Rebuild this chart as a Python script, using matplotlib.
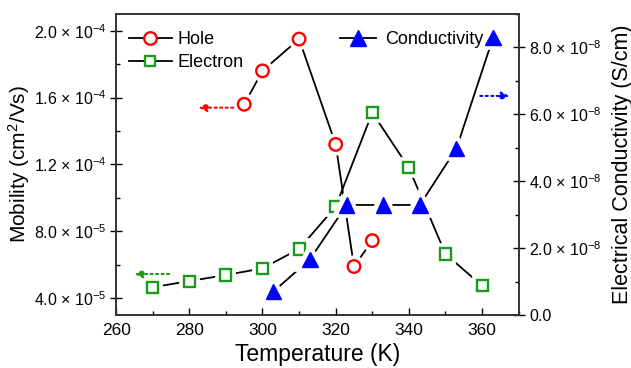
import numpy as np
import matplotlib.pyplot as plt
import matplotlib.patheffects as pe
from matplotlib.lines import Line2D
from matplotlib.ticker import FuncFormatter, MultipleLocator

plt.rcParams['font.family'] = ['Liberation Sans', 'DejaVu Sans']
plt.rcParams['mathtext.fontset'] = 'custom'
plt.rcParams['mathtext.rm'] = 'Liberation Sans'
plt.rcParams['mathtext.it'] = 'Liberation Sans:italic'

# data
hole_T = [295, 300, 310, 320, 325, 330]
hole_mu = [1.56e-4, 1.76e-4, 1.95e-4, 1.32e-4, 5.9e-5, 7.45e-5]

elec_T = [270, 280, 290, 300, 310, 320, 330, 340, 350, 360]
elec_mu = [4.66e-5, 5.03e-5, 5.39e-5, 5.79e-5, 6.95e-5, 9.48e-5,
           1.51e-4, 1.18e-4, 6.65e-5, 4.75e-5]

cond_T = [303, 313, 323, 333, 343, 353, 363]
cond_s = [0.70e-8, 1.67e-8, 3.29e-8, 3.29e-8, 3.29e-8, 4.98e-8, 8.29e-8]


def sci(v, pos):
    if abs(v) < 1e-20:
        return '0.0'
    e = int(np.floor(np.log10(abs(v)) + 1e-9))
    m = v / 10**e
    return '%.1f \u00d7 10$^{%d}$' % (m, e)


halo = [pe.withStroke(linewidth=7, foreground='white')]

fig = plt.figure(figsize=(6.31, 3.68), dpi=100)
ax = fig.add_axes([0.184, 0.144, 0.638, 0.818])
ax2 = ax.twinx()

ax.plot(hole_T, hole_mu, color='black', lw=1.3)
ax.plot(hole_T, hole_mu, ls='none', marker='o', ms=9, mfc='white',
        mec='red', mew=1.7, path_effects=halo)
ax.plot(elec_T, elec_mu, color='black', lw=1.3)
ax.plot(elec_T, elec_mu, ls='none', marker='s', ms=8, mfc='white',
        mec='#1a9a1a', mew=1.7, path_effects=halo)

ax2.plot(cond_T, cond_s, color='black', lw=1.3)
ax2.plot(cond_T, cond_s, ls='none', marker='^', ms=11, mfc='blue',
         mec='blue', path_effects=halo)

ax.set_xlim(260, 370)
ax.set_ylim(3e-5, 2.1e-4)
ax2.set_ylim(0, 9e-8)

ax.xaxis.set_major_locator(MultipleLocator(20))
ax.xaxis.set_minor_locator(MultipleLocator(10))
ax.yaxis.set_major_locator(MultipleLocator(4e-5))
ax.yaxis.set_minor_locator(MultipleLocator(2e-5))
ax2.yaxis.set_major_locator(MultipleLocator(2e-8))
ax2.yaxis.set_minor_locator(MultipleLocator(1e-8))
ax.yaxis.set_major_formatter(FuncFormatter(sci))
ax2.yaxis.set_major_formatter(FuncFormatter(sci))

ax.tick_params(axis='x', which='major', direction='in', length=5, width=1, labelsize=12.5, pad=6)
ax.tick_params(axis='x', which='minor', direction='in', length=3, width=1)
ax.tick_params(axis='y', which='major', direction='inout', length=8, width=1, labelsize=11.5, pad=3)
ax.tick_params(axis='y', which='minor', direction='in', length=3, width=1)
ax2.tick_params(axis='y', which='major', direction='inout', length=8, width=1, labelsize=11.5)
ax2.tick_params(axis='y', which='minor', direction='in', length=3, width=1)

for a in (ax, ax2):
    for s in a.spines.values():
        s.set_linewidth(1.2)
        s.set_color('#333333')

ax.set_xlabel('Temperature (K)', fontsize=16.5, labelpad=3)
ax.set_ylabel('Mobility (cm$^2$/Vs)', fontsize=15, labelpad=1)
ax2.set_ylabel('Electrical Conductivity (S/cm)', fontsize=15.5, labelpad=7)

# direction arrows
ax.annotate('', xy=(282.5, 1.54e-4), xytext=(292, 1.54e-4),
            arrowprops=dict(arrowstyle='-|>', color='red', lw=1.5, ls=':',
                            mutation_scale=12, shrinkA=0, shrinkB=0))
ax.annotate('', xy=(265, 5.45e-5), xytext=(274.5, 5.45e-5),
            arrowprops=dict(arrowstyle='-|>', color='#1a9a1a', lw=1.5, ls=':',
                            mutation_scale=12, shrinkA=0, shrinkB=0))
ax.annotate('', xy=(367.5, 1.61e-4), xytext=(359.5, 1.61e-4),
            arrowprops=dict(arrowstyle='-|>', color='blue', lw=1.5, ls=':',
                            mutation_scale=12, shrinkA=0, shrinkB=0))

h1 = Line2D([], [], color='black', lw=1.3, marker='o', ms=9, mfc='white',
            mec='red', mew=1.7)
h2 = Line2D([], [], color='black', lw=1.3, marker='s', ms=7, mfc='white',
            mec='#1a9a1a', mew=1.7)
h3 = Line2D([], [], color='black', lw=1.3, marker='^', ms=11, mfc='blue',
            mec='blue')
leg1 = ax2.legend([h1, h2], ['Hole', 'Electron'], loc='upper left',
                  bbox_to_anchor=(0.0, 0.985), frameon=False, fontsize=13,
                  handlelength=2.4, handletextpad=0.3, labelspacing=0.35,
                  borderaxespad=0.3)
ax2.add_artist(leg1)
ax2.legend([h3], ['Conductivity'], loc='upper left',
           bbox_to_anchor=(0.525, 0.985), frameon=False, fontsize=13,
           handlelength=2.0, handletextpad=0.5, borderaxespad=0.3)

fig.savefig('out.png', dpi=100)
